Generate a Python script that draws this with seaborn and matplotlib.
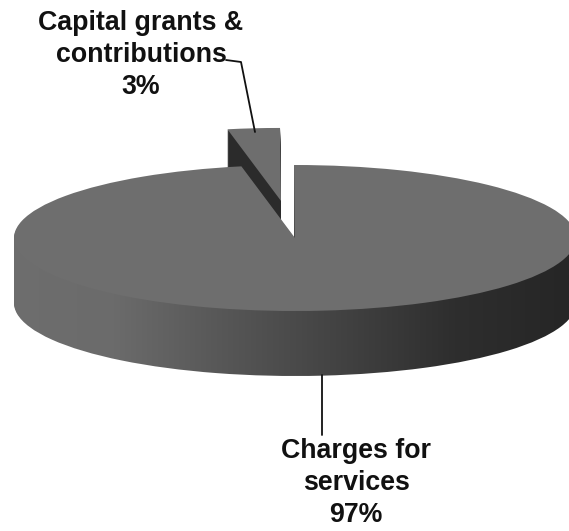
import numpy as np
import seaborn as sns
import matplotlib
matplotlib.use("Agg")
import matplotlib.pyplot as plt
from matplotlib.lines import Line2D

# Revenue shares
categories = ["Charges for\nservices", "Capital grants &\ncontributions"]
shares = [97, 3]

sns.set_theme(style="white")
plt.rcParams["font.family"] = ["Liberation Sans", "DejaVu Sans"]

W, H = 569, 531
CX, CY = 295, 238      # pie apex
RX, RY = 281, 73       # ellipse radii of the top face
DEPTH = 65             # rim height
FACE = "#6e6e6e"
DARK = "#2b2b2b"
EXPLODE = [0, 0.51]
START = 101

fig = plt.figure(figsize=(W / 100, H / 100), dpi=100, facecolor="white")
ax = fig.add_axes([0, 0, 1, 1])

xlim = (-CX / RX, (W - CX) / RX)
ylim = (-(H - CY) / RY, CY / RY)
rim_cmap = sns.blend_palette(["#6e6e6e", "#6b6b6b", "#565656", "#424242", "#2e2e2e", "#262626"], as_cmap=True)
ramp = np.linspace(0, 1, 256)[None, :]


def pie_layer(dy, colors):
    wedges, _ = ax.pie(shares, colors=colors, explode=EXPLODE, startangle=START,
                       center=(0, dy), radius=1, wedgeprops={"linewidth": 0})
    return wedges


# Rim: the pie stacked downward, the large wedge shaded left to right
for px_down in range(DEPTH, 0, -1):
    main, slice_ = pie_layer(-px_down / RY, ["none", DARK])
    im = ax.imshow(ramp, cmap=rim_cmap, extent=(xlim[0], xlim[1], ylim[0], ylim[1]),
                   aspect="auto", zorder=main.get_zorder())
    im.set_clip_path(main)

# Top faces
main, slice_ = pie_layer(0, [FACE, FACE])
main.set_zorder(5)
slice_.set_zorder(1.5)

ax.set_aspect("auto")
ax.set_xlim(*xlim)
ax.set_ylim(*ylim)
ax.axis("off")


def fx(x):
    return x / W


def fy(y):
    return 1 - y / H


# Leader lines
fig.add_artist(Line2D([fx(226), fx(241), fx(255)], [fy(60), fy(62), fy(132)],
                      color="#111111", lw=1.3))
fig.add_artist(Line2D([fx(322), fx(322)], [fy(375), fy(435)], color="#111111", lw=1.3))

# Labels
label_style = dict(ha="center", va="center", fontsize=19.3, fontweight="bold",
                   color="#111111", linespacing=1.29)
fig.text(fx(141), fy(55), f"{categories[1]}\n{shares[1]}%", **label_style)
fig.text(fx(356), fy(483), f"{categories[0]}\n{shares[0]}%", **label_style)

fig.savefig("out.png", dpi=100)
